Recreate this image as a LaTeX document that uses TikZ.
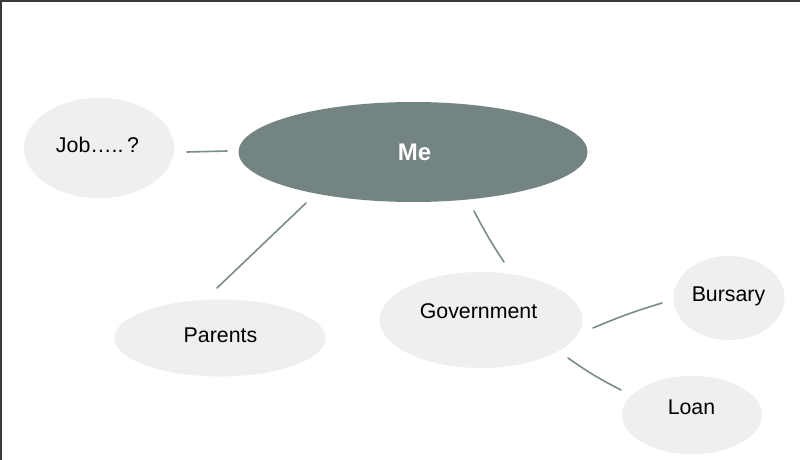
\documentclass[tikz,border=0pt]{standalone}
\usepackage{fontspec}
\setmainfont{Liberation Sans}
\usetikzlibrary{shapes.geometric}
\definecolor{mefill}{RGB}{115,132,130}
\definecolor{lightfill}{RGB}{238,240,240}
\definecolor{connc}{RGB}{122,140,138}
\definecolor{framec}{RGB}{55,58,58}
\tikzset{
  bubble/.style={ellipse, draw=none, fill=lightfill, inner sep=0pt},
  mebubble/.style={ellipse, draw=none, fill=mefill, inner sep=0pt},
  txt/.style={anchor=base, inner sep=0pt, font=\fontsize{16}{19}\selectfont, text=black},
  metxt/.style={anchor=base, inner sep=0pt, font=\fontsize{18}{21}\selectfont\bfseries, text=white},
  conn/.style={draw=connc, line width=1.2pt, line cap=round},
  frame/.style={draw=framec, line width=1.8pt}
}
\begin{document}
\begin{tikzpicture}[x=0.75pt,y=-0.75pt]
\useasboundingbox (0,0) rectangle (800,460);
\fill[white] (0,0) rectangle (800,460);
% frame (top and left edges)
\coordinate (tl) at (0,1);
\coordinate (tr) at (800,1);
\coordinate (bl) at (1,460);
\draw[frame] (tr) -- (tl);
\draw[frame] ([xshift=0.75pt]tl) -- (bl);

% bubbles
\node[bubble, minimum width=112.5pt, minimum height=75pt] (job) at (99,148) {};
\node[mebubble, minimum width=261.75pt, minimum height=75pt] (me) at (413,152) {};
\node[bubble, minimum width=158.25pt, minimum height=57.75pt] (parents) at (220,338) {};
\node[bubble, minimum width=152.25pt, minimum height=72pt] (gov) at (481,320) {};
\node[bubble, minimum width=83.25pt, minimum height=63pt] (bursary) at (729,298) {};
\node[bubble, minimum width=105pt, minimum height=58.5pt] (loan) at (692,415) {};

% texts
\node[txt] (jobt) at (97.5,152) {Job…..\,?};
\node[metxt] (met) at (414.5,160) {Me};
\node[txt] (parentst) at (220.5,342) {Parents};
\node[txt] (govt) at (478.5,318) {Government};
\node[txt] (bursaryt) at (728.5,301) {Bursary};
\node[txt] (loant) at (691.5,414) {Loan};

% connector ends
\coordinate (c1a) at (187,152);
\coordinate (c1b) at (227,151);
\coordinate (c2a) at (306,203);
\coordinate (c2b) at (217,288);
\coordinate (c3a) at (474,211);
\coordinate (c3b) at (504,262);
\coordinate (c4a) at (593,328);
\coordinate (c4b) at (662,303);
\coordinate (c5a) at (568,358);
\coordinate (c5b) at (621,390);

% connectors
\draw[conn] (c1a) -- (c1b);
\draw[conn] (c2a) -- (c2b);
\draw[conn] (c3a) to[bend right=3] (c3b);
\draw[conn] (c4a) to[bend left=3] (c4b);
\draw[conn] (c5a) to[bend right=4] (c5b);
\end{tikzpicture}
\end{document}
